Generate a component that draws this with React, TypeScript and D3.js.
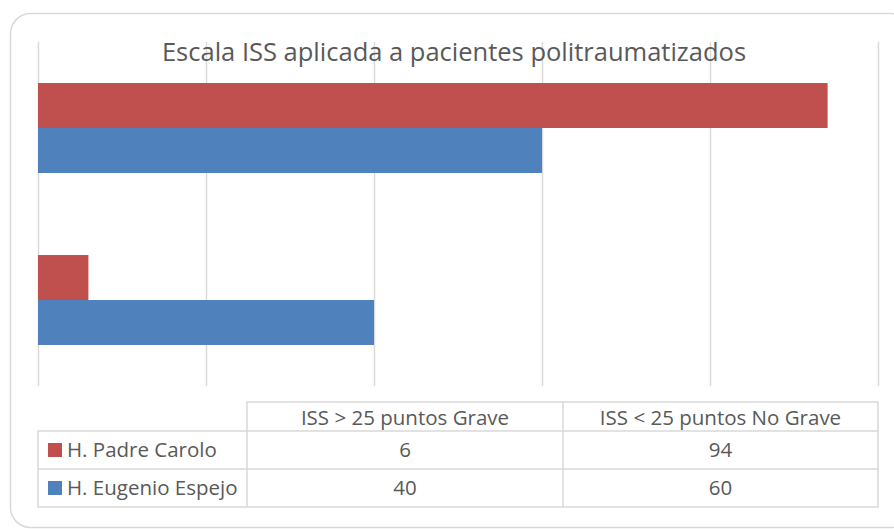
import React, { useEffect, useRef } from 'react'
import * as d3 from 'd3'

const categories = ['ISS > 25 puntos Grave', 'ISS < 25 puntos No Grave']
const seriesNames = ['H. Padre Carolo', 'H. Eugenio Espejo']
const padreCarolo = [6, 94]
const eugenioEspejo = [40, 60]
const xTicks = [0, 20, 40, 60, 80, 100]
const colors = ['#C0504D', '#4F81BD']
const title = 'Escala ISS aplicada a pacientes politraumatizados'

const W = 894, H = 529
const FONT = '"Open Sans", "Noto Sans", sans-serif'

export default function App() {
  const ref = useRef<SVGSVGElement>(null)

  useEffect(() => {
    const svg = d3.select(ref.current)
    svg.selectAll('*').remove()
    const values = [padreCarolo, eugenioEspejo]

    // chart frame
    svg.append('rect')
      .attr('x', 10.5).attr('y', 13.5)
      .attr('width', 900).attr('height', 514)
      .attr('rx', 20).attr('ry', 20)
      .attr('fill', '#fff').attr('stroke', '#D9D9D9').attr('stroke-width', 1.5)

    const plot = { left: 38, right: 878, top: 42, bottom: 386 }
    const x = d3.scaleLinear().domain([0, 100]).range([plot.left, plot.right])
    // Excel draws first category at the bottom
    const y = d3.scaleBand<string>()
      .domain([...categories].reverse())
      .range([plot.top, plot.bottom])
      .paddingInner(0.477).paddingOuter(0.2385)
    const ySub = d3.scaleBand<number>()
      .domain([0, 1])
      .range([0, y.bandwidth()])

    svg.append('g').selectAll('line')
      .data(xTicks)
      .enter()
      .append('line')
      .attr('x1', d => Math.round(x(d)) + 0.5).attr('x2', d => Math.round(x(d)) + 0.5)
      .attr('y1', plot.top).attr('y2', plot.bottom)
      .attr('stroke', '#D9D9D9').attr('stroke-width', 1.5)

    const bars = svg.append('g')
    values.forEach((vals, si) => {
      bars.selectAll(`.s${si}`)
        .data(vals)
        .enter()
        .append('rect')
        .attr('class', `s${si}`)
        .attr('x', x(0))
        .attr('y', (d, i) => (y(categories[i]) as number) + (ySub(si) as number))
        .attr('width', d => x(d) - x(0))
        .attr('height', ySub.bandwidth())
        .attr('fill', colors[si])
    })

    svg.append('text')
      .attr('x', 454).attr('y', 61)
      .attr('text-anchor', 'middle')
      .attr('font-family', FONT).attr('font-size', 25.5)
      .attr('fill', '#595959')
      .text(title)

    // data table
    const colX = [38, 247, 563, 878]
    const rowY = [402, 431, 469, 507]
    const tbl = svg.append('g')
      .attr('stroke', '#D9D9D9').attr('stroke-width', 1.5).attr('fill', 'none')
    // header row (no left cell)
    tbl.append('path').attr('d',
      `M${colX[1]},${rowY[1]}V${rowY[0]}H${colX[3]}V${rowY[3]}H${colX[0]}V${rowY[1]}H${colX[3]}` +
      `M${colX[0]},${rowY[2]}H${colX[3]}M${colX[1]},${rowY[1]}V${rowY[3]}M${colX[2]},${rowY[0]}V${rowY[3]}`)

    const txt = svg.append('g')
      .attr('font-family', FONT).attr('font-size', 20.5).attr('fill', '#595959')
    categories.forEach((c, ci) => {
      txt.append('text')
        .attr('x', (colX[ci + 1] + colX[ci + 2]) / 2).attr('y', rowY[0] + 23)
        .attr('text-anchor', 'middle').text(c)
    })
    seriesNames.forEach((s, si) => {
      const cy = (rowY[si + 1] + rowY[si + 2]) / 2
      txt.append('rect')
        .attr('x', 48).attr('y', cy - 7).attr('width', 14).attr('height', 14)
        .attr('fill', colors[si])
      txt.append('text')
        .attr('x', 67).attr('y', cy + 7).text(s)
      values[si].forEach((v, ci) => {
        txt.append('text')
          .attr('x', (colX[ci + 1] + colX[ci + 2]) / 2).attr('y', cy + 7)
          .attr('text-anchor', 'middle').text(v)
      })
    })
  }, [])

  return (
    <svg ref={ref} width={W} height={H} style={{ position: 'absolute', left: 0, top: 0, display: 'block' }} />
  )
}
